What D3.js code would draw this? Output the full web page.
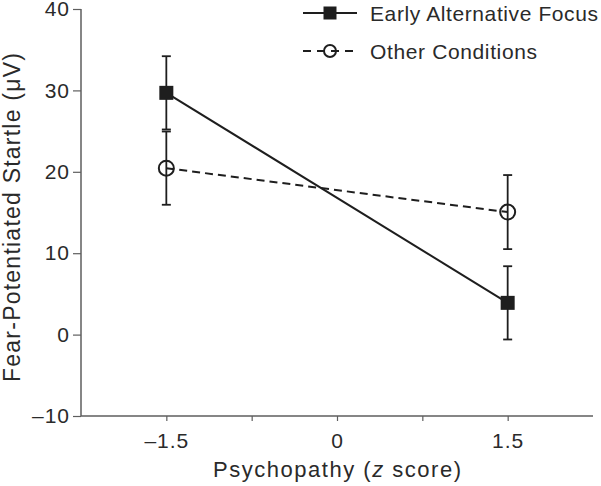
<!DOCTYPE html>
<html><head><meta charset="utf-8">
<script src="https://cdn.jsdelivr.net/npm/d3@7"></script>
<style>body{margin:0;background:#fff}svg{display:block;font-family:"Liberation Sans",Arial,sans-serif}</style>
</head><body><svg id="c" width="601" height="486"></svg>
<script>
const xValues = [-1.5, 1.5];
const seriesNames = ["Early Alternative Focus", "Other Conditions"];
const earlyValues = [29.7, 3.9];
const earlyErrors = [4.5, 4.5];
const otherValues = [20.45, 15.05];
const otherErrors = [4.5, 4.55];
const yTicks = [-10, 0, 10, 20, 30, 40];
const xTicks = [-1.5, -0.75, 0, 0.75, 1.5];
const xTickLabels = {"-1.5": "\u20131.5", "0": "0", "1.5": "1.5"};

const svg = d3.select("#c");
const x = d3.scaleLinear().domain([-2.25, 2.25]).range([81, 593]);
const y = d3.scaleLinear().domain([-10, 40]).range([416, 9]);
const axisCol = "#5e5e5e", ink = "#1e1e1e", txt = "#2a2a2a";
const FF = "'Liberation Sans',Arial,sans-serif";

const ya = svg.append("g").attr("transform", "translate(81,0)")
  .call(d3.axisLeft(y).tickValues(yTicks).tickSize(8).tickPadding(3)
    .tickFormat(d => d < 0 ? "\u2013" + Math.abs(d) : d));
const xa = svg.append("g").attr("transform", "translate(0,416)")
  .call(d3.axisBottom(x).tickValues(xTicks).tickSize(5).tickPadding(12)
    .tickFormat(d => xTickLabels[String(d)] || ""));
[ya, xa].forEach(a => {
  a.select(".domain").attr("stroke", axisCol).attr("stroke-width", 1.5);
  a.selectAll(".tick line").attr("stroke", axisCol).attr("stroke-width", 1.2);
  a.selectAll("text").attr("fill", txt).attr("font-size", 21).attr("letter-spacing", 1)
    .attr("font-family", FF);
});
ya.select(".domain").attr("d", "M-0,9V416");
xa.select(".domain").attr("d", "M81,0H593");

svg.append("text").attr("transform", "translate(20,217.5) rotate(-90)")
  .attr("text-anchor", "middle").attr("font-size", 23).attr("fill", txt)
  .attr("textLength", 329).attr("lengthAdjust", "spacing")
  .text("Fear-Potentiated Startle (\u03bcV)");
const xl = svg.append("text").attr("x", 213).attr("y", 477)
  .attr("font-size", 22).attr("fill", txt)
  .attr("textLength", 248).attr("lengthAdjust", "spacing");
xl.append("tspan").text("Psychopathy (");
xl.append("tspan").attr("font-style", "italic").text("z");
xl.append("tspan").text(" score)");

const series = [
  {name: seriesNames[0], vals: earlyValues, errs: earlyErrors, dash: null, marker: "square", tl: 228},
  {name: seriesNames[1], vals: otherValues, errs: otherErrors, dash: "8,5", marker: "circle", tl: 167}
];
const line = d3.line().x((d, i) => x(xValues[i])).y(d => y(d));

// error bars
series.forEach(s => {
  s.vals.forEach((v, i) => {
    const cx = x(xValues[i]);
    const g = svg.append("g").attr("stroke", ink).attr("stroke-width", 1.8);
    g.append("line").attr("x1", cx).attr("x2", cx).attr("y1", y(v + s.errs[i])).attr("y2", y(v - s.errs[i]));
    [v + s.errs[i], v - s.errs[i]].forEach(e =>
      g.append("line").attr("x1", cx - 4.5).attr("x2", cx + 4.5).attr("y1", y(e)).attr("y2", y(e)));
  });
});
series.forEach(s => {
  svg.append("path").attr("d", line(s.vals)).attr("fill", "none").attr("stroke", ink)
    .attr("stroke-width", 2).attr("stroke-dasharray", s.dash);
});
function marker(s, cx, cy, sz) {
  if (s.marker === "square") {
    svg.append("rect").attr("x", cx - sz / 2).attr("y", cy - sz / 2).attr("width", sz).attr("height", sz).attr("fill", ink);
  } else {
    svg.append("circle").attr("cx", cx).attr("cy", cy).attr("r", sz / 2 - 1).attr("fill", "none")
      .attr("stroke", ink).attr("stroke-width", 2);
  }
}
series.forEach(s => s.vals.forEach((v, i) => marker(s, x(xValues[i]), y(v), s.marker === "square" ? 14 : 17)));

// legend
series.forEach((s, i) => {
  const ly = 13 + i * 38;
  svg.append("line").attr("x1", 303).attr("x2", 357).attr("y1", ly).attr("y2", ly)
    .attr("stroke", ink).attr("stroke-width", 2).attr("stroke-dasharray", s.dash ? "8,6" : null);
  marker(s, 330, ly, s.marker === "square" ? 13 : 14);
  svg.append("text").attr("x", 370).attr("y", ly + 8).attr("font-size", 21).attr("fill", txt)
    .attr("textLength", s.tl).attr("lengthAdjust", "spacing").text(s.name);
});
</script></body></html>
